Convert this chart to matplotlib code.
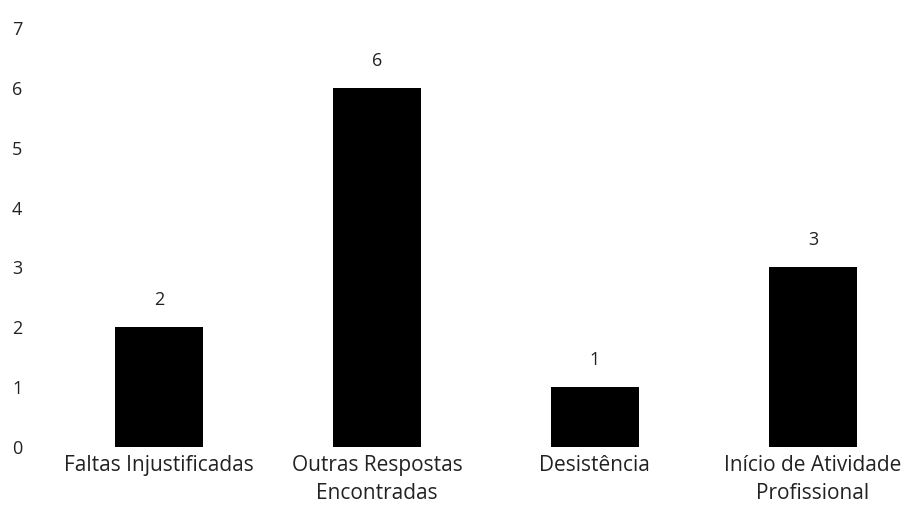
import matplotlib
matplotlib.use("Agg")
import matplotlib.pyplot as plt

categories = ["Faltas Injustificadas", "Outras Respostas\nEncontradas",
              "Desistência", "Início de Atividade\nProfissional"]
values = [2, 6, 1, 3]
yticks = [0, 1, 2, 3, 4, 5, 6, 7]

plt.rcParams['font.family'] = ['Open Sans', 'DejaVu Sans']

fig = plt.figure(figsize=(9.11, 5.21), dpi=100)
ax = fig.add_axes([50/911, 74/521, 1 - 50/911, (447-28)/521])

x = list(range(len(categories)))
bars = ax.bar(x, values, width=0.4, color='black')
for xi, v in zip(x, values):
    ax.text(xi, v + 0.3, str(v), ha='center', va='bottom', fontsize=13, color='#222222')

ax.set_xlim(-0.5, 3.45)
ax.set_ylim(0, 7)
ax.set_yticks(yticks)
ax.set_xticks(x)
ax.set_xticklabels(categories, fontsize=15, color='#222222', linespacing=1.4)
ax.tick_params(axis='both', length=0, colors='#222222')
ax.tick_params(axis='y', pad=20, labelsize=13)
ax.tick_params(axis='x', pad=6)
for s in ax.spines.values():
    s.set_visible(False)

fig.savefig("out.png", dpi=100)
